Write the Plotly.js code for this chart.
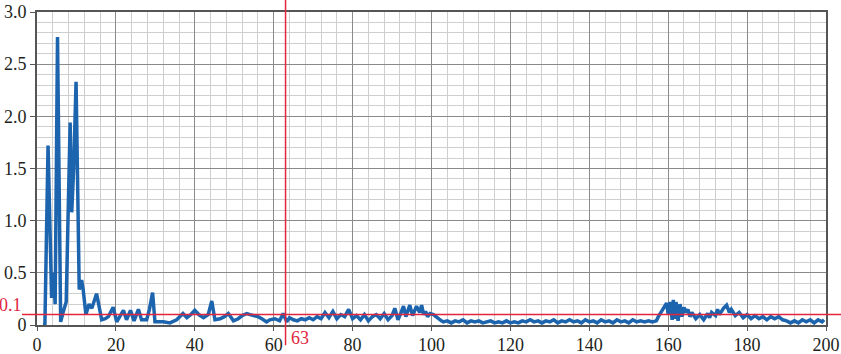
<!DOCTYPE html>
<html>
<head>
<meta charset="utf-8">
<script src="https://cdn.plot.ly/plotly-3.0.1.min.js"></script>
<style>html,body{margin:0;padding:0;background:#fff;}#chart{width:841px;height:354px;}</style>
</head>
<body>
<div id="chart"></div>
<script>
// Signal samples (x, y)
const xs = [
  1.5, 2.0, 2.8, 3.2, 3.7, 4.2, 4.6, 5.2, 5.6, 6.0,
  6.6, 7.4, 8.4, 8.8, 9.3, 9.9, 10.2, 10.7, 11.3, 11.7,
  12.4, 13.2, 13.9, 15.1, 16.4, 17.3, 18.1, 19.3, 20.2, 21.9,
  22.7, 23.7, 24.6, 25.7, 26.5, 27.8, 28.5, 29.3, 29.9, 31,
  32, 33.7, 35.4, 37, 38, 39, 40, 41, 42.2, 43.4,
  44.3, 45.1, 46.4, 47.5, 48.5, 49.8, 51, 52, 53.2, 54,
  55, 56, 57, 58.2, 59, 60.3, 61.5, 62.4, 63.3, 64,
  65, 66, 67, 68, 69, 70, 71, 72, 73, 74,
  75, 76, 77, 78, 79, 80, 81, 82, 83, 84,
  85, 86, 87, 88, 89, 90, 90.7, 91.5, 92.3, 92.9,
  93.5, 94, 94.5, 95.2, 95.7, 96.2, 97, 97.5, 98, 98.5,
  99, 99.6, 100.5, 101.7, 102.5,
  103, 104, 105, 106, 107, 108, 109, 110, 111, 112,
  113, 114, 115, 116, 117, 118, 119, 120, 121, 122,
  123, 124, 125, 126, 127, 128, 129, 130, 131, 132,
  133, 134, 135, 136, 137, 138, 139, 140, 141, 142,
  143, 144, 145, 146, 147, 148, 149, 150, 151, 152,
  153, 154, 155, 156,
  157, 157.5, 158.5, 159.2, 159.6, 160, 160.5, 161, 161.3, 161.7,
  162, 162.5, 163, 163.5, 164, 164.5, 165, 165.5, 166, 167,
  168, 169, 170, 170.5, 171, 172, 172.5, 173, 174, 174.8,
  175.5, 176, 177, 178, 179, 180, 181, 182, 183, 184,
  185, 186, 187, 188, 189, 190, 191, 192, 193, 194,
  195, 196, 197, 198, 199, 199.5
];
const ys = [
  0, 0, 1.72, 1.1, 0.26, 0.5, 0.2, 2.76, 1.3, 0.03,
  0.12, 0.22, 1.94, 1.08, 1.5, 2.33, 1.6, 0.34, 0.43, 0.34,
  0.1, 0.2, 0.16, 0.3, 0.05, 0.06, 0.08, 0.17, 0.03, 0.14,
  0.05, 0.14, 0.04, 0.15, 0.05, 0.05, 0.15, 0.31, 0.03, 0.03,
  0.03, 0.02, 0.05, 0.11, 0.07, 0.1, 0.14, 0.1, 0.07, 0.1,
  0.23, 0.05, 0.06, 0.08, 0.11, 0.04, 0.06, 0.09, 0.11, 0.1,
  0.09, 0.08, 0.06, 0.03, 0.05, 0.06, 0.04, 0.11, 0.03, 0.07,
  0.05, 0.04, 0.06, 0.05, 0.07, 0.05, 0.08, 0.06, 0.12, 0.07,
  0.13, 0.06, 0.1, 0.08, 0.15, 0.06, 0.09, 0.05, 0.1, 0.04,
  0.08, 0.1, 0.06, 0.11, 0.05, 0.09, 0.16, 0.05, 0.12, 0.18,
  0.08, 0.14, 0.19, 0.09, 0.13, 0.18, 0.12, 0.19, 0.1, 0.13,
  0.08, 0.11, 0.1, 0.06, 0.04,
  0.03, 0.04, 0.02, 0.04, 0.03, 0.05, 0.02, 0.04, 0.03, 0.04,
  0.02, 0.03, 0.04, 0.02, 0.03, 0.02, 0.04, 0.02, 0.03, 0.02,
  0.04, 0.03, 0.05, 0.03, 0.04, 0.02, 0.04, 0.03, 0.05, 0.02,
  0.04, 0.03, 0.05, 0.03, 0.04, 0.02, 0.05, 0.03, 0.04, 0.02,
  0.05, 0.03, 0.04, 0.02, 0.05, 0.03, 0.04, 0.02, 0.05, 0.03,
  0.04, 0.03, 0.04, 0.03,
  0.04, 0.08, 0.14, 0.19, 0.21, 0.1, 0.22, 0.05, 0.24, 0.06,
  0.22, 0.04, 0.2, 0.08, 0.17, 0.12, 0.15, 0.08, 0.12, 0.06,
  0.1, 0.05, 0.11, 0.07, 0.12, 0.09, 0.15, 0.1, 0.16, 0.19,
  0.12, 0.15, 0.09, 0.12, 0.07, 0.1, 0.06, 0.09, 0.06, 0.08,
  0.05, 0.08, 0.06, 0.08, 0.05, 0.04, 0.02, 0.04, 0.02, 0.05,
  0.03, 0.05, 0.02, 0.05, 0.03, 0.05
];
const thresholdY = 0.1;
const markerX = 63;
const xTickVals = [0, 20, 40, 60, 80, 100, 120, 140, 160, 180, 200];
const yTickVals = [0, 0.5, 1.0, 1.5, 2.0, 2.5, 3.0];
const yTickText = ['0', '0.5', '1.0', '1.5', '2.0', '2.5', '3.0'];

const FONT = "Liberation Serif";
const RED = '#e1263d';
const BLUE = '#1d64ae';
const FS = 18;

const trace = {
  x: xs, y: ys, type: 'scatter', mode: 'lines',
  line: {color: BLUE, width: 3.5, shape: 'linear'},
  hoverinfo: 'skip'
};

const layout = {
  width: 841, height: 354,
  margin: {l: 37, r: 15, t: 12, b: 29},
  paper_bgcolor: '#ffffff', plot_bgcolor: '#ffffff',
  showlegend: false,
  font: {family: FONT, size: FS, color: '#231f20'},
  xaxis: {
    range: [0, 200], tickvals: xTickVals, ticktext: xTickVals.map(String),
    showgrid: true, gridcolor: '#8a8a8a', gridwidth: 1,
    minor: {dtick: 4, showgrid: true, gridcolor: '#cfcfcf', gridwidth: 1, ticks: ''},
    showline: true, linecolor: '#555555', linewidth: 2, mirror: true,
    ticks: 'outside', ticklen: 4, tickcolor: '#555555', tickwidth: 1,
    ticklabeloverflow: 'allow', ticklabelstandoff: -2,
    zeroline: false, fixedrange: true, automargin: false,
    tickfont: {family: FONT, size: FS, color: '#231f20'}
  },
  yaxis: {
    range: [0, 3.0], tickvals: yTickVals, ticktext: yTickText,
    showgrid: true, gridcolor: '#8a8a8a', gridwidth: 1,
    minor: {dtick: 0.1, showgrid: true, gridcolor: '#cfcfcf', gridwidth: 1, ticks: ''},
    showline: true, linecolor: '#555555', linewidth: 2, mirror: true,
    ticks: 'outside', ticklen: 5, tickcolor: '#555555', tickwidth: 1,
    ticklabeloverflow: 'allow',
    zeroline: false, fixedrange: true, automargin: false,
    tickfont: {family: FONT, size: FS, color: '#231f20'}
  },
  shapes: [
    {type: 'line', xref: 'paper', yref: 'y', x0: -0.019, x1: 1.02, y0: thresholdY, y1: thresholdY,
     line: {color: RED, width: 1.5}, layer: 'above'},
    {type: 'line', xref: 'x', yref: 'paper', x0: markerX, x1: markerX, y0: -0.065, y1: 1.04,
     line: {color: RED, width: 1.5}, layer: 'above'}
  ],
  annotations: [
    {xref: 'paper', yref: 'y', x: 0, y: thresholdY, text: String(thresholdY),
     xanchor: 'right', yanchor: 'bottom', xshift: -13, yshift: -2, showarrow: false,
     font: {family: FONT, size: FS, color: RED}},
    {xref: 'x', yref: 'paper', x: markerX, y: 0, text: String(markerX),
     xanchor: 'left', yanchor: 'top', xshift: 3, yshift: -1, showarrow: false,
     font: {family: FONT, size: FS, color: RED}}
  ]
};

Plotly.newPlot('chart', [trace], layout, {staticPlot: true, displayModeBar: false});
</script>
</body>
</html>
